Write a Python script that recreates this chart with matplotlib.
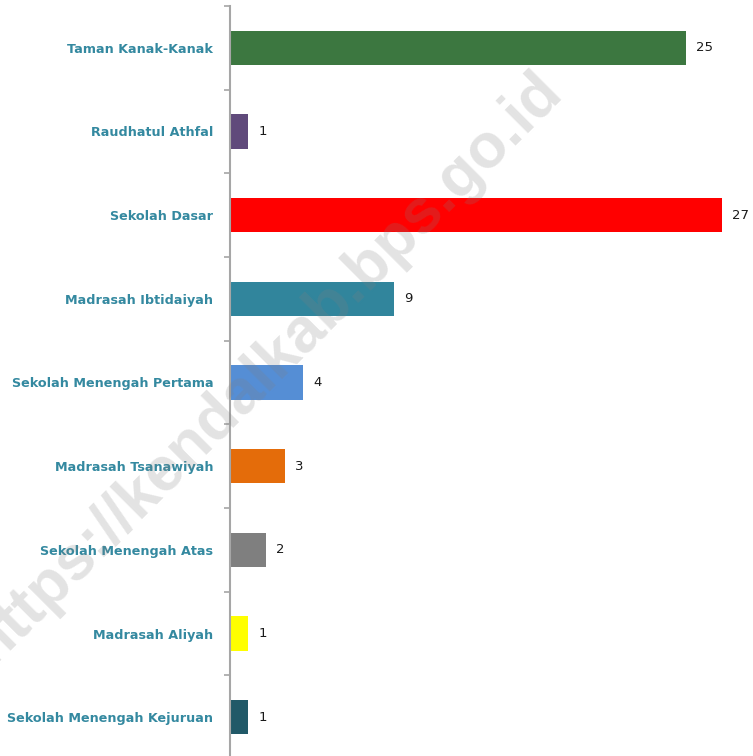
import matplotlib.pyplot as plt
import numpy as np

categories = ['Taman Kanak-Kanak', 'Raudhatul Athfal', 'Sekolah Dasar',
              'Madrasah Ibtidaiyah', 'Sekolah Menengah Pertama',
              'Madrasah Tsanawiyah', 'Sekolah Menengah Atas',
              'Madrasah Aliyah', 'Sekolah Menengah Kejuruan']
values = [25, 1, 27, 9, 4, 3, 2, 1, 1]
colors = ['#3C7740', '#604A7B', '#FF0000', '#31859C', '#558ED5',
          '#E46C0A', '#7F7F7F', '#FFFF00', '#215968']

fig = plt.figure(figsize=(7.53, 7.56), dpi=100)
ax = fig.add_axes([230 / 753, -3 / 756, 523 / 753, 753 / 756])

y = np.arange(len(categories))
ax.barh(y, values, height=0.41, color=colors)
ax.set_ylim(len(categories) - 0.5, -0.5)
ax.set_xlim(0, 28.7)

for yi, v in zip(y, values):
    ax.text(v + 0.55, yi, str(v), va='center', ha='left',
            fontsize=9.5, color='#1a1a1a')

ax.set_yticks(y)
ax.set_yticklabels(categories, fontsize=9.2, fontweight='bold', color='#3489A0')
ax.tick_params(axis='y', which='major', length=0, pad=12)
ax.set_yticks(np.arange(-0.5, len(categories)), minor=True)
ax.tick_params(axis='y', which='minor', length=4, color='#A6A6A6', width=1.2)
ax.set_xticks([])

for s in ['top', 'right', 'bottom']:
    ax.spines[s].set_visible(False)
ax.spines['left'].set_color('#A6A6A6')
ax.spines['left'].set_linewidth(1.5)

# watermark
fig.text(266 / 753, 1 - 368 / 756, 'https://kendalkab.bps.go.id',
         rotation=45, rotation_mode='anchor', ha='center', va='center',
         fontsize=45, fontweight='bold', family='Liberation Sans',
         color='#808080', alpha=0.22, zorder=10)

fig.savefig('out.png', dpi=100)
